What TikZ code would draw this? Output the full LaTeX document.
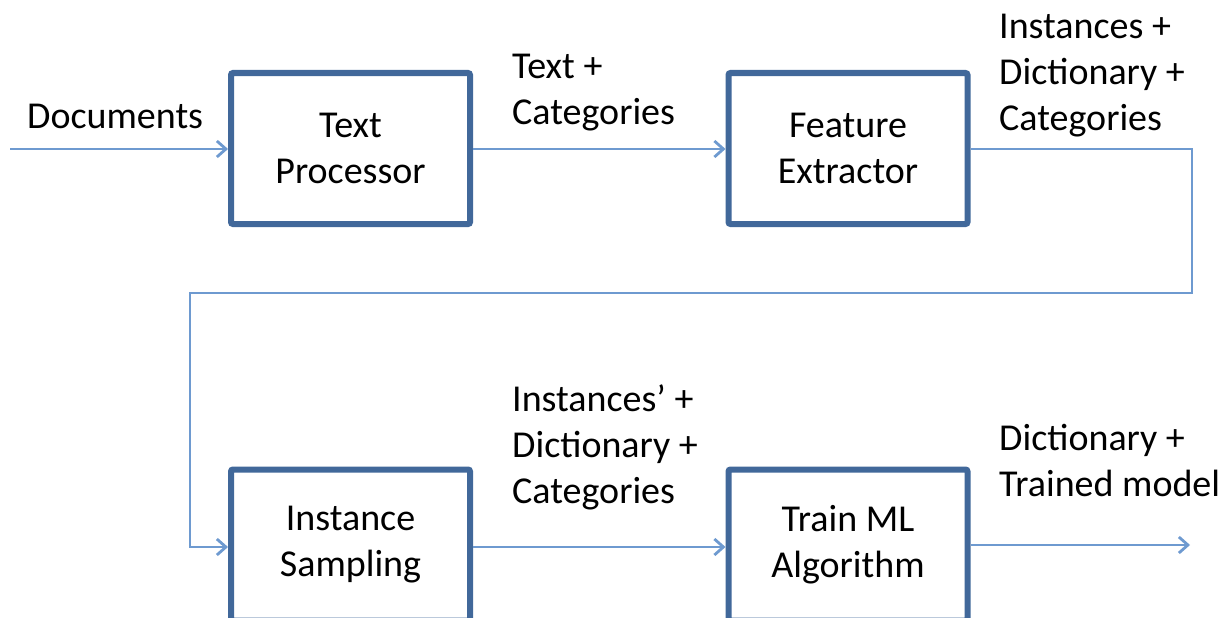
\documentclass[tikz,border=0pt]{standalone}
\usepackage{fontspec}
\setmainfont{Carlito}
\usetikzlibrary{arrows.meta}
\definecolor{boxblue}{HTML}{41689A}
\definecolor{linkblue}{HTML}{6E9AD0}
\begin{document}
\begin{tikzpicture}[x=1pt,y=-1pt,
  every node/.style={font=\fontsize{38}{46}\selectfont, text=black},
  procbox/.style={draw=boxblue, line width=6pt, rounded corners=2pt, fill=white,
    minimum width=239pt, minimum height=151pt, align=center, inner sep=0pt},
  link/.style={draw=linkblue, line width=2.8pt, -{Straight Barb[length=9pt,width=16pt,line width=2.8pt]}},
  lbl/.style={align=left, anchor=north west, inner sep=0pt}]
\useasboundingbox (0,0) rectangle (1231,618);
\node[procbox] (tp) at (350.5,148.5) {Text\\Processor};
\node[procbox] (fe) at (848,148.5) {Feature\\Extractor};
\node[procbox] (is) at (350.5,545) {Instance\\Sampling};
\node[procbox] (tm) at (848,545) {Train ML\\Algorithm};
\coordinate (start) at (10,149);
\coordinate (c1) at (1192,149);
\coordinate (c2) at (1192,293);
\coordinate (c3) at (190,293);
\coordinate (c4) at (190,547);
\coordinate (endp) at (1190,545);
\draw[link] (start) -- (tp.west |- start);
\draw[link] (tp.east |- start) -- (fe.west |- start);
\draw[link] (fe.east |- c1) -- (c1) -- (c2) -- (c3) -- (c4) -- (is.west |- c4);
\draw[link] (is.east |- c4) -- (tm.west |- c4);
\draw[link] (tm.east |- endp) -- (endp);
\node[lbl] (ldoc) at (27,104) {Documents};
\node[lbl] (l1) at (512,54) {Text +\\Categories};
\node[lbl] (l2) at (999,14) {Instances +\\Dictionary +\\Categories};
\node[lbl] (l3) at (512,385) {Instances' +\\Dictionary +\\Categories};
\node[lbl] (l4) at (999,424) {Dictionary +\\Trained model};
\end{tikzpicture}
\end{document}
